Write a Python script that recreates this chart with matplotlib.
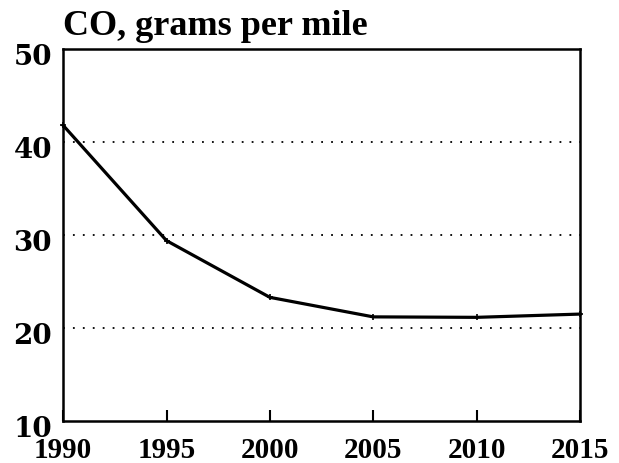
import matplotlib
matplotlib.use("Agg")
import matplotlib.pyplot as plt
import matplotlib.transforms as mtransforms

# CO emissions, grams per mile
years = [1990, 1995, 2000, 2005, 2010, 2015]
co_gpm = [41.8, 29.4, 23.3, 21.2, 21.15, 21.5]
y_ticks = [10, 20, 30, 40, 50]
title = "CO, grams per mile"

plt.rcParams['font.family'] = ['Liberation Serif', 'DejaVu Serif']

fig = plt.figure(figsize=(6.19, 4.64), dpi=100)
ax = fig.add_axes([0.102, 0.0905, 0.835, 0.8015])

ax.plot(years, co_gpm, color='black', linewidth=2.3, marker='+',
        markersize=5, markeredgewidth=1.2, clip_on=False, zorder=3)

ax.set_xlim(1990, 2015)
ax.set_ylim(10, 50)
ax.set_xticks(years)
ax.set_yticks(y_ticks)

for v in y_ticks[1:]:
    ax.axhline(v, color='black', linestyle=(0, (1, 4.5)), linewidth=1.3, zorder=1)

for s in ax.spines.values():
    s.set_linewidth(1.8)
    s.set_color('black')

ax.tick_params(axis='x', direction='in', length=8, width=1.5, pad=11,
               labelsize=21)
ax.tick_params(axis='y', length=0, pad=8, labelsize=20)

# nudge the y labels a few pixels down, like the original
shift = mtransforms.ScaledTranslation(0, -4 / 100, fig.dpi_scale_trans)
for lab in ax.get_xticklabels():
    lab.set_fontweight('bold')
for lab in ax.get_yticklabels():
    lab.set_fontweight('bold')
    lab.set_family(['DejaVu Serif'])
    lab.set_transform(lab.get_transform() + shift)

fig.text(0.102, 0.925, title, fontsize=26, fontweight='bold',
         ha='left', va='baseline')

fig.savefig("out.png", dpi=100)
